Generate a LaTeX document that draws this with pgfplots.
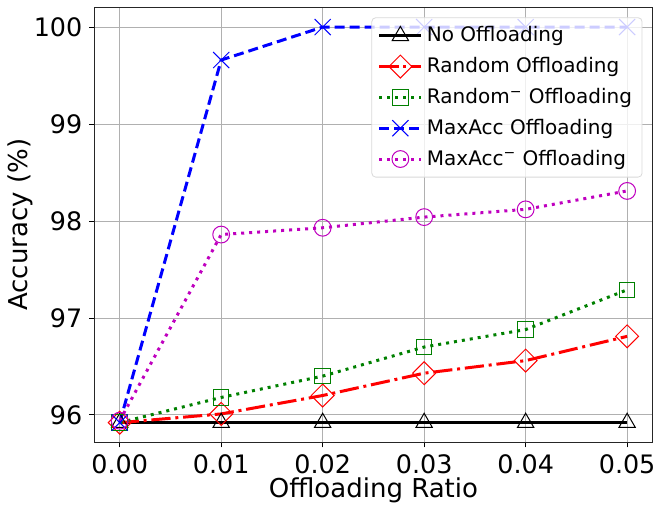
\documentclass[border=0pt]{standalone}
\usepackage{fontspec}
\setmainfont{DejaVu Sans}
\usepackage{pgfplots}
\pgfplotsset{compat=1.18}
\definecolor{mgreen}{rgb}{0,0.5,0}
\definecolor{mmag}{rgb}{0.75,0,0.75}
\definecolor{gridgray}{rgb}{0.69,0.69,0.69}
\newcommand{\supm}{\textsuperscript{\char"2212}}
\begin{document}
\begin{tikzpicture}
\path[use as bounding box] (-47.15pt,-34.85pt) rectangle (283.75pt,221.15pt);
\begin{axis}[
  at={(0,0)}, anchor=south west,
  scale only axis, width=279pt, height=217.5pt,
  xmin=-0.0025, xmax=0.0525, ymin=95.716, ymax=100.204,
  xtick={0,0.01,0.02,0.03,0.04,0.05},
  xticklabels={0.00,0.01,0.02,0.03,0.04,0.05},
  scaled x ticks=false,
  ytick={96,97,98,99,100},
  /pgf/number format/assume math mode=true,
  tick label style={font=\fontsize{12.7}{14}\selectfont},
  tick align=outside, major tick length=2.5pt,
  tick style={black, line width=0.4pt},
  xtick pos=bottom, ytick pos=left,
  grid=major,
  major grid style={gridgray, line width=0.4pt},
  axis line style={black!85, line width=0.5pt},
  xlabel={Offloading Ratio},
  ylabel={Accuracy (\%)},
  label style={font=\fontsize{13}{15}\selectfont},
  xlabel style={at={(axis description cs:0.5,0)}, anchor=base, yshift=-27.3pt},
  ylabel style={at={(axis description cs:-0.1201,0.5)}, anchor=base},
  legend style={at={(1,1)}, anchor=north east, xshift=-5pt, yshift=-5pt,
    font=\fontsize{10}{12}\selectfont, draw=black!15, rounded corners=2pt,
    fill=white, fill opacity=0.8, text opacity=1, row sep=2.3pt,
    inner xsep=3pt, inner ysep=2.5pt},
  legend cell align=left,
  legend image code/.code={
    \draw[mark repeat=2,mark phase=2] plot coordinates {(0cm,0cm) (0.37cm,0cm) (0.74cm,0cm)};
  },
]
\addplot[black, line width=1.5pt, mark=triangle, mark size=4.7pt, mark options={solid, line width=0.5pt, fill=none}]
  coordinates {(0,95.92) (0.01,95.92) (0.02,95.92) (0.03,95.92) (0.04,95.92) (0.05,95.92)};
\addlegendentry{No Offloading}
\addplot[red, line width=1.5pt, dash pattern=on 9.6pt off 2.4pt on 1.5pt off 2.4pt, mark=square, mark size=4.05pt, mark options={solid, rotate=45, line width=0.5pt, fill=none}]
  coordinates {(0,95.92) (0.01,96.01) (0.02,96.20) (0.03,96.43) (0.04,96.56) (0.05,96.81)};
\addlegendentry{Random Offloading}
\addplot[mgreen, line width=1.5pt, dash pattern=on 1.5pt off 2.5pt, mark=square, mark size=3.9pt, mark options={solid, line width=0.5pt, fill=none}]
  coordinates {(0,95.92) (0.01,96.18) (0.02,96.40) (0.03,96.70) (0.04,96.88) (0.05,97.29)};
\addlegendentry{Random\supm{} Offloading}
\addplot[blue, line width=1.5pt, dash pattern=on 5pt off 2.5pt, mark=x, mark size=5.7pt, mark options={solid, line width=0.5pt}]
  coordinates {(0,95.92) (0.01,99.66) (0.02,100) (0.03,100) (0.04,100) (0.05,100)};
\addlegendentry{MaxAcc Offloading}
\addplot[mmag, line width=1.5pt, dash pattern=on 1.5pt off 2.5pt, mark=o, mark size=4.2pt, mark options={solid, line width=0.5pt, fill=none}]
  coordinates {(0,95.94) (0.01,97.86) (0.02,97.93) (0.03,98.04) (0.04,98.12) (0.05,98.31)};
\addlegendentry{MaxAcc\supm{} Offloading}
\end{axis}
\end{tikzpicture}
\end{document}
